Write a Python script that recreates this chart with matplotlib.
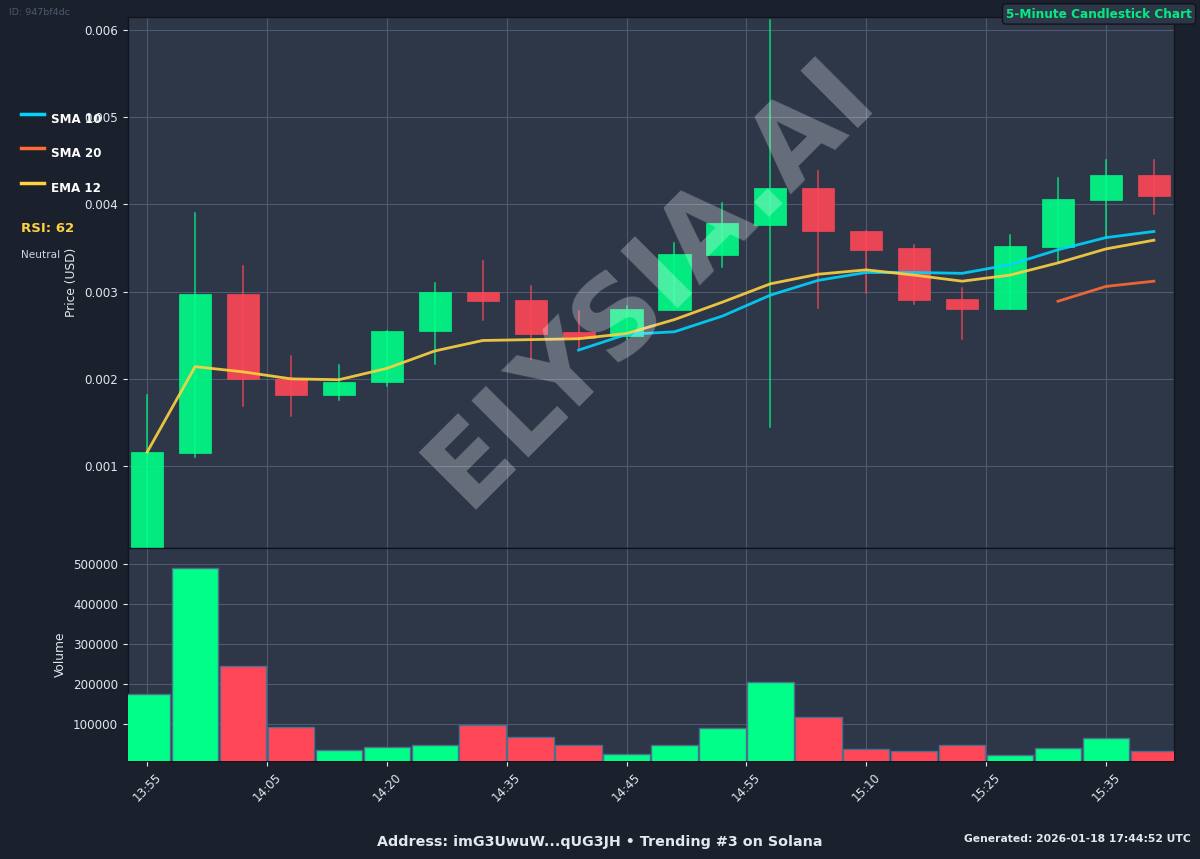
import matplotlib
matplotlib.use("Agg")
from matplotlib import pyplot as plt
from matplotlib.lines import Line2D
import numpy as np

# Candle data (price in USD)
opens = [0.00006, 0.00115, 0.00297, 0.00200, 0.00181, 0.00196, 0.00255, 0.00300, 0.00291, 0.00254, 0.00249,
         0.00279, 0.00342, 0.00377, 0.00419, 0.00370, 0.00350, 0.00292, 0.00280, 0.00351, 0.00405, 0.00434]
closes = [0.00116, 0.00297, 0.00200, 0.00181, 0.00196, 0.00255, 0.00300, 0.00289, 0.00252, 0.00247, 0.00280,
          0.00343, 0.00379, 0.00419, 0.00369, 0.00348, 0.00290, 0.00280, 0.00352, 0.00406, 0.00434, 0.00410]
highs = [0.00181, 0.00390, 0.00329, 0.00226, 0.00216, 0.00255, 0.00310, 0.00335, 0.00307, 0.00278, 0.00283,
         0.00356, 0.00402, 0.00611, 0.00438, 0.00370, 0.00354, 0.00304, 0.00365, 0.00430, 0.00451, 0.00451]
lows = [0.00006, 0.00110, 0.00169, 0.00157, 0.00176, 0.00192, 0.00217, 0.00267, 0.00223, 0.00235, 0.00246,
        0.00279, 0.00328, 0.00145, 0.00281, 0.00299, 0.00286, 0.00246, 0.00280, 0.00334, 0.00362, 0.00389]
volumes = [174000, 490000, 244000, 91000, 34000, 41000, 46000, 96000, 66000, 46000, 23000,
           46000, 89000, 204000, 116000, 36000, 31000, 46000, 21000, 39000, 64000, 32000]

# Moving averages
sma10 = [None] * 9 + [0.00233, 0.00251, 0.00254, 0.00272, 0.00296, 0.00313, 0.00322, 0.00322, 0.00321,
                      0.00331, 0.00348, 0.00362, 0.00369]
sma20 = [None] * 19 + [0.00289, 0.00306, 0.00312]
ema12 = [0.00116, 0.00214, 0.00208, 0.00200, 0.00199, 0.00212, 0.00232, 0.00244, 0.00245, 0.00246, 0.00252,
         0.00268, 0.00288, 0.00309, 0.00320, 0.00325, 0.00319, 0.00312, 0.00319, 0.00333, 0.00349, 0.00359]

tick_pos = [0, 2.5, 5, 7.5, 10, 12.5, 15, 17.5, 20]
tick_labels = ["13:55", "14:05", "14:20", "14:35", "14:45", "14:55", "15:10", "15:25", "15:35"]

BG = "#1a202c"
PANEL = "#2d3748"
GRID = "#4f5a6e"
TEXT = "#e2e8f0"
UP = "#00ff88"
DOWN = "#ff4757"
W, H = 1200, 859

fig = plt.figure(figsize=(12, 8.59), dpi=100, facecolor=BG)
ax = fig.add_axes([128 / W, 1 - 548 / H, 1046 / W, 531 / H], facecolor=PANEL)
ax_vol = fig.add_axes([128 / W, 1 - 761 / H, 1046 / W, 213 / H], facecolor=PANEL)

x = np.arange(len(opens))
for i in x:
    up = closes[i] >= opens[i]
    c = UP if up else DOWN
    ax.plot([i, i], [lows[i], highs[i]], color=c, linewidth=1.1, alpha=0.8, zorder=3)
    ax.bar(i, abs(closes[i] - opens[i]), bottom=min(opens[i], closes[i]), width=0.67,
           color=c, edgecolor=c, linewidth=0.5, alpha=0.9, zorder=4)

ax.plot(x, np.array(sma10, dtype=float), color="#00d4ff", linewidth=2, alpha=0.9, zorder=5)
ax.plot(x, np.array(sma20, dtype=float), color="#ff6b35", linewidth=2, alpha=0.9, zorder=5)
ax.plot(x, np.array(ema12, dtype=float), color="#ffd23f", linewidth=2, alpha=0.9, zorder=5)

vol_colors = [UP if c >= o else DOWN for o, c in zip(opens, closes)]
ax_vol.bar(x, volumes, width=0.97, color=vol_colors, edgecolor="#4f6d8f", linewidth=1, zorder=3)

ax.set_xlim(-0.4, 21.42)
ax_vol.set_xlim(-0.4, 21.42)
ax.set_ylim(0.00006, 0.00615)
ax_vol.set_ylim(6400, 541000)

ax.set_yticks([0.001, 0.002, 0.003, 0.004, 0.005, 0.006])
ax.set_yticklabels(["0.001", "0.002", "0.003", "0.004", "0.005", "0.006"])
ax.set_xticks(tick_pos)
ax.tick_params(axis="x", length=0, labelbottom=False)
ax_vol.set_yticks([100000, 200000, 300000, 400000, 500000])
ax_vol.set_yticklabels(["100000", "200000", "300000", "400000", "500000"])
ax_vol.set_xticks(tick_pos)
ax_vol.set_xticklabels(tick_labels, rotation=45, ha="center")

for a in (ax, ax_vol):
    a.grid(True, color=GRID, linewidth=0.8, zorder=1)
    a.set_axisbelow(True)
    a.tick_params(colors=TEXT, labelsize=8.6)
    for s in a.spines.values():
        s.set_color("#11141c")
        s.set_linewidth(1)

ax.set_ylabel("Price (USD)", color=TEXT, fontsize=8.8)
ax.yaxis.set_label_coords((78 - 128) / 1046, 0.5)
ax_vol.set_ylabel("Volume", color=TEXT, fontsize=8.8)
ax_vol.yaxis.set_label_coords((67 - 128) / 1046, 0.5)

# Watermark over the price panel
ax.text(0.5, 0.5, "ELYSIA.AI", transform=ax.transAxes, fontsize=79, fontweight="bold", color="white",
        alpha=0.28, rotation=45, ha="center", va="center", zorder=10)

# Side legend and RSI block
legend_items = [("SMA 10", "#00d4ff", 113.5), ("SMA 20", "#ff6b35", 148), ("EMA 12", "#ffd23f", 182.5)]
for name, col, y in legend_items:
    fig.add_artist(Line2D([21 / W, 44 / W], [1 - y / H, 1 - y / H], color=col, linewidth=2.5))
    fig.text(51 / W, 1 - (y + 6) / H, name, color="white", fontsize=8.6, fontweight="bold", va="center")
fig.text(21 / W, 1 - 228 / H, "RSI: 62", color="#ffd23f", fontsize=9.5, fontweight="bold", va="center")
fig.text(21 / W, 1 - 255 / H, "Neutral", color="#cbd5e0", fontsize=7.6, va="center")

fig.text(9 / W, 1 - 12.5 / H, "ID: 947bf4dc", color=GRID, fontsize=6.8, va="center")
fig.text(1192 / W, 1 - 14 / H, "5-Minute Candlestick Chart", color=UP, fontsize=8.7, fontweight="bold",
         ha="right", va="center", alpha=0.9,
         bbox=dict(boxstyle="round,pad=0.3", facecolor=PANEL, edgecolor="#11141c", linewidth=1))
fig.text(600 / W, 1 - 842 / H, "Address: imG3UwuW...qUG3JH • Trending #3 on Solana", color=TEXT, fontsize=10.3,
         fontweight="bold", ha="center", va="center")
fig.text(1191 / W, 1 - 839 / H, "Generated: 2026-01-18 17:44:52 UTC", color=TEXT, fontsize=7.75, fontweight="bold",
         ha="right", va="center")

fig.savefig("out.png", dpi=100, facecolor=BG)
